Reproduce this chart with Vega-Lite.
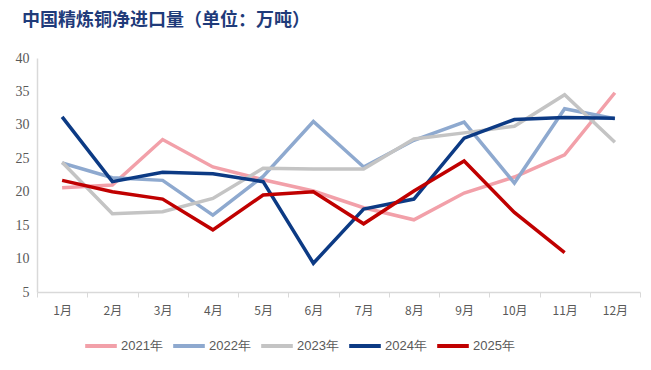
{
  "$schema": "https://vega.github.io/schema/vega-lite/v6.json",
  "width": 603,
  "height": 234,
  "autosize": {"type": "none"},
  "padding": {"left": 37, "top": 58, "right": 11, "bottom": 78},
  "background": "white",
  "title": {
    "text": "中国精炼铜净进口量（单位：万吨）",
    "anchor": "start",
    "frame": "group",
    "dx": -15,
    "offset": 21,
    "font": "Noto Sans CJK SC",
    "fontSize": 18,
    "fontWeight": "bold",
    "color": "#1F3B7A"
  },
  "data": {
    "values": [
      {"m": "1月", "y": "2021年", "v": 20.6}, {"m": "2月", "y": "2021年", "v": 21.0}, {"m": "3月", "y": "2021年", "v": 27.8}, {"m": "4月", "y": "2021年", "v": 23.7}, {"m": "5月", "y": "2021年", "v": 21.8}, {"m": "6月", "y": "2021年", "v": 20.1}, {"m": "7月", "y": "2021年", "v": 17.6}, {"m": "8月", "y": "2021年", "v": 15.8}, {"m": "9月", "y": "2021年", "v": 19.8}, {"m": "10月", "y": "2021年", "v": 22.2}, {"m": "11月", "y": "2021年", "v": 25.5}, {"m": "12月", "y": "2021年", "v": 34.8},
      {"m": "1月", "y": "2022年", "v": 24.3}, {"m": "2月", "y": "2022年", "v": 22.1}, {"m": "3月", "y": "2022年", "v": 21.7}, {"m": "4月", "y": "2022年", "v": 16.5}, {"m": "5月", "y": "2022年", "v": 22.3}, {"m": "6月", "y": "2022年", "v": 30.5}, {"m": "7月", "y": "2022年", "v": 23.7}, {"m": "8月", "y": "2022年", "v": 27.7}, {"m": "9月", "y": "2022年", "v": 30.4}, {"m": "10月", "y": "2022年", "v": 21.3}, {"m": "11月", "y": "2022年", "v": 32.4}, {"m": "12月", "y": "2022年", "v": 30.9},
      {"m": "1月", "y": "2023年", "v": 24.4}, {"m": "2月", "y": "2023年", "v": 16.7}, {"m": "3月", "y": "2023年", "v": 17.0}, {"m": "4月", "y": "2023年", "v": 19.0}, {"m": "5月", "y": "2023年", "v": 23.5}, {"m": "6月", "y": "2023年", "v": 23.4}, {"m": "7月", "y": "2023年", "v": 23.4}, {"m": "8月", "y": "2023年", "v": 27.9}, {"m": "9月", "y": "2023年", "v": 28.8}, {"m": "10月", "y": "2023年", "v": 29.8}, {"m": "11月", "y": "2023年", "v": 34.5}, {"m": "12月", "y": "2023年", "v": 27.4},
      {"m": "1月", "y": "2024年", "v": 31.2}, {"m": "2月", "y": "2024年", "v": 21.5}, {"m": "3月", "y": "2024年", "v": 22.9}, {"m": "4月", "y": "2024年", "v": 22.7}, {"m": "5月", "y": "2024年", "v": 21.5}, {"m": "6月", "y": "2024年", "v": 9.3}, {"m": "7月", "y": "2024年", "v": 17.4}, {"m": "8月", "y": "2024年", "v": 18.9}, {"m": "9月", "y": "2024年", "v": 28.0}, {"m": "10月", "y": "2024年", "v": 30.8}, {"m": "11月", "y": "2024年", "v": 31.1}, {"m": "12月", "y": "2024年", "v": 31.0},
      {"m": "1月", "y": "2025年", "v": 21.7}, {"m": "2月", "y": "2025年", "v": 20.0}, {"m": "3月", "y": "2025年", "v": 18.9}, {"m": "4月", "y": "2025年", "v": 14.3}, {"m": "5月", "y": "2025年", "v": 19.5}, {"m": "6月", "y": "2025年", "v": 20.0}, {"m": "7月", "y": "2025年", "v": 15.2}, {"m": "8月", "y": "2025年", "v": 20.1}, {"m": "9月", "y": "2025年", "v": 24.6}, {"m": "10月", "y": "2025年", "v": 16.9}, {"m": "11月", "y": "2025年", "v": 10.9}
    ]
  },
  "mark": {"type": "line", "strokeWidth": 3.5, "strokeJoin": "miter", "strokeCap": "butt"},
  "encoding": {
    "x": {
      "field": "m",
      "type": "ordinal",
      "sort": ["1月","2月","3月","4月","5月","6月","7月","8月","9月","10月","11月","12月"],
      "scale": {"type": "band", "paddingInner": 0, "paddingOuter": 0},
      "axis": {
        "title": null,
        "labelAngle": 0,
        "labelFont": "Noto Sans CJK SC",
        "labelFontSize": 12,
        "labelColor": "#595959",
        "labelPadding": 8,
        "domainColor": "#D9D9D9",
        "domainWidth": 1.5,
        "tickColor": "#D9D9D9",
        "tickBand": "extent",
        "tickSize": 5,
        "grid": false
      }
    },
    "y": {
      "field": "v",
      "type": "quantitative",
      "scale": {"domain": [5, 40], "nice": false, "zero": false},
      "axis": {
        "title": null,
        "values": [5, 10, 15, 20, 25, 30, 35, 40],
        "labelFont": "Liberation Serif",
        "labelFontSize": 14,
        "labelColor": "#595959",
        "labelPadding": 8,
        "ticks": false,
        "domainColor": "#D9D9D9",
        "domainWidth": 1.5,
        "grid": false
      }
    },
    "color": {
      "field": "y",
      "type": "nominal",
      "scale": {
        "domain": ["2021年", "2022年", "2023年", "2024年", "2025年"],
        "range": ["#F2A0A9", "#8EA9CF", "#C4C4C4", "#0C3A84", "#C00000"]
      },
      "legend": {
        "title": null,
        "orient": "none",
        "direction": "horizontal",
        "legendX": 46,
        "legendY": 270,
        "symbolType": "stroke",
        "symbolSize": 1000,
        "symbolStrokeWidth": 4,
        "labelFont": "Liberation Sans",
        "labelFontSize": 13,
        "labelColor": "#595959",
        "labelOffset": 2,
        "columnPadding": 2,
        "symbolOffset": 0
      }
    }
  },
  "config": {"view": {"stroke": null}}
}
